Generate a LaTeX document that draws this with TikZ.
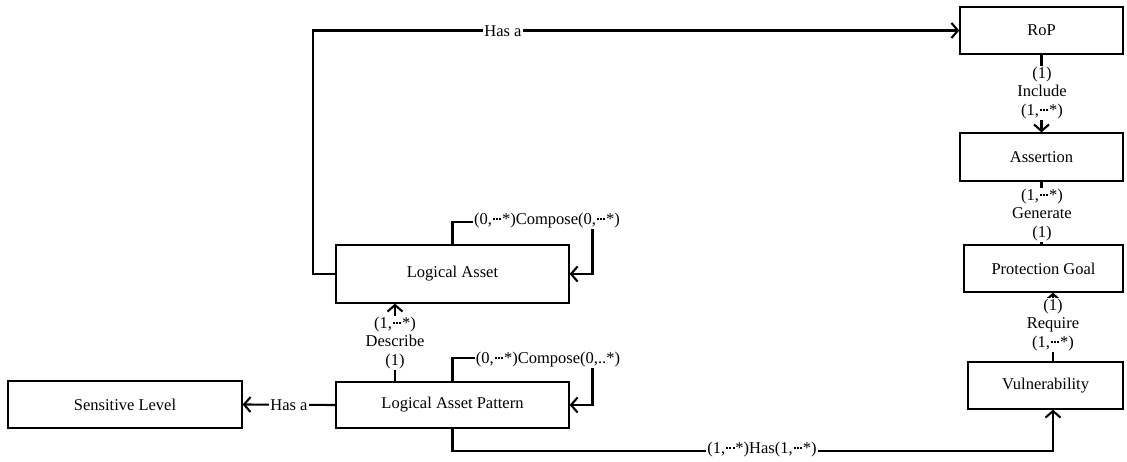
\documentclass[tikz,border=0pt]{standalone}
\usepackage{fontspec}
\setmainfont{Liberation Serif}
\usepackage{tikz}
\usetikzlibrary{arrows.meta, positioning}
\newcommand{\mdts}{\kern0.8pt\rule[4.6pt]{2pt}{2pt}\kern1.3pt\rule[4.6pt]{2pt}{2pt}\kern1.3pt\rule[4.6pt]{2pt}{2pt}\kern0.8pt}
\newcommand{\diagfont}{\fontsize{16.5}{18.5}\selectfont}

\begin{document}
\begin{tikzpicture}[x=1pt, y=-1pt,
    box/.style={rectangle, draw, line width=1.3pt, inner sep=0pt, align=center, font=\diagfont},
    arrow/.style={-{Straight Barb[length=6.5pt,width=15pt]}, line width=2.1pt},
    link/.style={line width=2.1pt},
    lbl/.style={fill=white, inner sep=1pt, align=center, font=\diagfont}
]
\useasboundingbox (0,0) rectangle (1127,462);

% right column
\node[box, minimum width=163pt, minimum height=47pt] (rop) at (1041.5,30.5) {RoP};
\node[box, minimum width=163pt, minimum height=48pt] (assertion) at (1041.5,157) {Assertion};
\node[box, minimum width=159pt, minimum height=47pt] (goal) at (1043.5,268.5) {Protection Goal};
\node[box, minimum width=155pt, minimum height=47pt] (vuln) at (1045.5,385.5) {Vulnerability};

% left part
\node[box, minimum width=233pt, minimum height=58pt] (asset) at (452.5,274) {Logical Asset};
\node[box, minimum width=233pt, minimum height=46pt] (pattern) at (452.5,405) {Logical Asset Pattern};
\node[box, minimum width=234pt, minimum height=47pt] (level) at (125,404.5) {Sensitive Level};

% relations
\draw[arrow] (asset.west) -- ++(-22,0) |- (rop.west);
\node[lbl] (hasrop) at (503,31) {Has a};

\draw[arrow] (asset.north) |- ++(140,-22) |- (asset.east);
\node[lbl] (compasset) at (547,221) {(0,\mdts*)Compose(0,\mdts*)};

\draw[arrow] (pattern.north) |- ++(140,-23) |- (pattern.east);
\node[lbl] (comppattern) at (548,360) {(0,\mdts*)Compose(0,..*)};

\draw[arrow] ([xshift=-57.5pt]pattern.north) -- ([xshift=-57.5pt]asset.south);
\node[lbl] (describe) at (395,343) {(1,\mdts*)\\Describe\\(1)};

\draw[arrow] (pattern.west) -- node[lbl] (haslevel) {Has a} (level.east);

\draw[arrow] (pattern.south) -- ++(0,22) -| ([xshift=7.5pt]vuln.south);
\node[lbl] (hasvuln) at (762,450) {(1,\mdts*)Has(1,\mdts*)};

\draw[arrow] (rop.south) -- (assertion.north);
\node[lbl] (include) at (1042,93) {(1)\\Include\\(1,\mdts*)};

\draw[link] (assertion.south) -- (assertion.south |- goal.north);
\node[lbl] (generate) at (1042,215) {(1,\mdts*)\\Generate\\(1)};

\draw[arrow] ([xshift=7.5pt]vuln.north) coordinate (req) -- (req |- goal.south);
\node[lbl] (require) at (1053,325) {(1)\\Require\\(1,\mdts*)};
\end{tikzpicture}
\end{document}
